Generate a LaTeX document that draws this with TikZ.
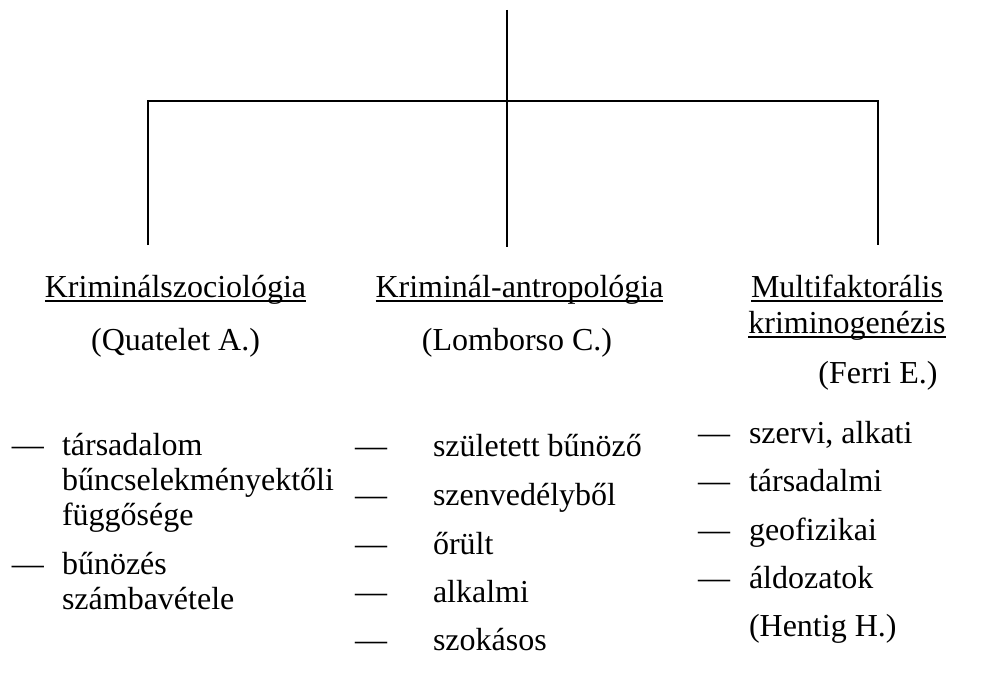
\documentclass[tikz,border=0pt]{standalone}
\usepackage{fontspec}
\setmainfont{Liberation Serif}
\usepackage{tikz}

\newcommand{\ulword}[1]{\setbox0\hbox{#1}\rlap{\rule[-5pt]{\wd0}{1.6pt}}\box0}

\tikzset{
  tree/.style={line width=1.5pt},
  head/.style={anchor=base},
}

\begin{document}
\begin{tikzpicture}[x=1pt,y=-1pt,every node/.style={inner sep=0pt, outer sep=0pt, anchor=base west, font=\fontsize{32}{35}\selectfont}]
\useasboundingbox (0,0) rectangle (985,682);

\coordinate (top) at (507,10);
\coordinate (hub) at (507,101);
\coordinate (Ld) at (148,245);
\coordinate (Md) at (507,247);
\coordinate (Rd) at (878,245);

\draw[tree] (top) -- (hub);
\draw[tree] (Ld) |- (hub) -| (Rd);
\draw[tree] (hub) -- (Md);

% headings
\node[head] (soc) at (175.5,297) {\ulword{Kriminálszociológia}};
\node[head] (socp) at (175.5,350) {(Quatelet A.)};
\node[head] (ant) at (519.5,297) {\ulword{Kriminál-antropológia}};
\node[head] (antp) at (517,350) {(Lomborso C.)};
\node[head] (mula) at (847,297) {\ulword{Multifaktorális}};
\node[head] (mulb) at (847,333) {\ulword{kriminogenézis}};
\node[head] (ferri) at (878,383) {(Ferri E.)};

% left list
\node (ld1) at (12,455) {—};
\node (lt1) at (62,455) {\begin{tabular}[t]{@{}l@{}}társadalom\\ bűncselekményektőli\\ függősége\end{tabular}};
\node (ld2) at (12,574) {—};
\node (lt2) at (62,574) {\begin{tabular}[t]{@{}l@{}}bűnözés\\ számbavétele\end{tabular}};

% middle list
\node (md1) at (355,456) {—};
\node (mt1) at (433,456) {született bűnöző};
\node (md2) at (355,505) {—};
\node (mt2) at (433,505) {szenvedélyből};
\node (md3) at (355,554) {—};
\node (mt3) at (433,554) {őrült};
\node (md4) at (355,602) {—};
\node (mt4) at (433,602) {alkalmi};
\node (md5) at (355,650) {—};
\node (mt5) at (433,650) {szokásos};

% right list
\node (rd1) at (698,443) {—};
\node (rt1) at (749,443) {szervi, alkati};
\node (rd2) at (698,491) {—};
\node (rt2) at (749,491) {társadalmi};
\node (rd3) at (698,540) {—};
\node (rt3) at (749,540) {geofizikai};
\node (rd4) at (698,588) {—};
\node (rt4) at (749,588) {áldozatok};
\node (rt5) at (749,636) {(Hentig H.)};
\end{tikzpicture}
\end{document}
